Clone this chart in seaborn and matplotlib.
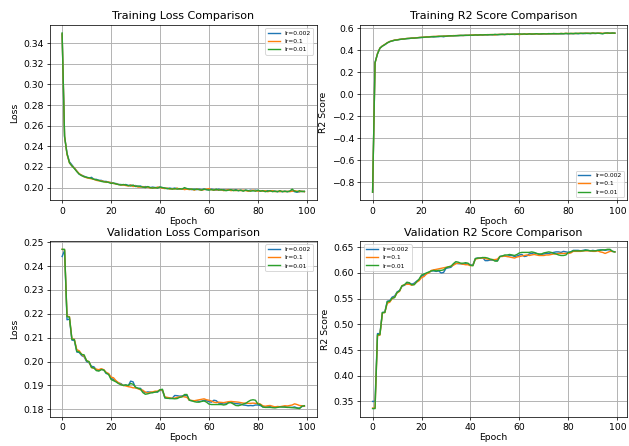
import numpy as np
import pandas as pd
import matplotlib
matplotlib.use('Agg')
import matplotlib.pyplot as plt
import seaborn as sns

# --- Data (epochs 0..99) ---
epochs = list(range(100))
lr_labels = ['lr=0.002', 'lr=0.1', 'lr=0.01']

train_loss_002 = [
    0.349, 0.249, 0.233, 0.225, 0.222, 0.219, 0.216, 0.213, 0.212, 0.211,
    0.210, 0.209, 0.210, 0.208, 0.208, 0.207, 0.207, 0.206, 0.206, 0.205,
    0.205, 0.204, 0.204, 0.203, 0.203, 0.2025, 0.203, 0.202, 0.2025, 0.2015,
    0.202, 0.201, 0.2015, 0.2005, 0.201, 0.2005, 0.200, 0.2005, 0.200, 0.200,
    0.2005, 0.200, 0.1995, 0.199, 0.1995, 0.199, 0.1995, 0.199, 0.1985, 0.199,
    0.1985, 0.199, 0.1985, 0.198, 0.1985, 0.198, 0.1985, 0.198, 0.1985, 0.198,
    0.198, 0.1985, 0.198, 0.1975, 0.1985, 0.1975, 0.198, 0.1975, 0.198, 0.1975,
    0.1975, 0.198, 0.197, 0.1975, 0.197, 0.1975, 0.197, 0.1975, 0.197, 0.1975,
    0.197, 0.1965, 0.197, 0.1965, 0.197, 0.1965, 0.197, 0.1965, 0.196, 0.1965,
    0.196, 0.1965, 0.196, 0.1965, 0.197, 0.196, 0.1955, 0.196, 0.1965, 0.196,
]
train_loss_1 = [
    0.349, 0.250, 0.232, 0.224, 0.221, 0.219, 0.216, 0.2135, 0.212, 0.2105,
    0.2095, 0.209, 0.2085, 0.208, 0.207, 0.2065, 0.2065, 0.206, 0.205, 0.2055,
    0.2045, 0.204, 0.2035, 0.203, 0.2025, 0.2025, 0.202, 0.2015, 0.2025, 0.201,
    0.2015, 0.2005, 0.2005, 0.201, 0.200, 0.2005, 0.1995, 0.200, 0.1995, 0.2005,
    0.200, 0.1995, 0.199, 0.1995, 0.1985, 0.199, 0.1985, 0.1995, 0.1985, 0.199,
    0.198, 0.1985, 0.198, 0.1985, 0.1975, 0.1985, 0.198, 0.1975, 0.198, 0.1985,
    0.199, 0.198, 0.1975, 0.198, 0.1975, 0.198, 0.197, 0.1975, 0.198, 0.197,
    0.1975, 0.197, 0.1975, 0.197, 0.1975, 0.197, 0.1965, 0.197, 0.1975, 0.197,
    0.1965, 0.197, 0.1965, 0.197, 0.196, 0.1965, 0.197, 0.196, 0.1965, 0.196,
    0.1965, 0.196, 0.1965, 0.196, 0.1965, 0.197, 0.1965, 0.196, 0.1965, 0.196,
]
train_loss_01 = [
    0.350, 0.250, 0.233, 0.224, 0.221, 0.2185, 0.2155, 0.213, 0.2115, 0.2105,
    0.210, 0.2095, 0.209, 0.208, 0.2075, 0.207, 0.206, 0.2055, 0.2055, 0.205,
    0.204, 0.2045, 0.2035, 0.203, 0.2025, 0.203, 0.2025, 0.202, 0.2015, 0.2025,
    0.201, 0.2015, 0.201, 0.2005, 0.200, 0.201, 0.200, 0.1995, 0.200, 0.1995,
    0.2005, 0.200, 0.1995, 0.199, 0.199, 0.1985, 0.199, 0.1985, 0.199, 0.1985,
    0.200, 0.199, 0.1985, 0.1985, 0.198, 0.1985, 0.198, 0.1975, 0.1985, 0.198,
    0.1975, 0.198, 0.1975, 0.1985, 0.1975, 0.198, 0.1975, 0.197, 0.1975, 0.198,
    0.197, 0.1975, 0.197, 0.1975, 0.1965, 0.1975, 0.197, 0.1965, 0.197, 0.1965,
    0.1975, 0.1965, 0.197, 0.196, 0.1965, 0.197, 0.196, 0.1965, 0.196, 0.197,
    0.196, 0.1965, 0.196, 0.1965, 0.1985, 0.1965, 0.196, 0.197, 0.196, 0.1965,
]

train_r2_002 = [
    -0.89, 0.290, 0.370, 0.420, 0.440, 0.452, 0.468, 0.480, 0.486, 0.492,
    0.496, 0.500, 0.502, 0.505, 0.507, 0.509, 0.511, 0.513, 0.515, 0.516,
    0.518, 0.520, 0.521, 0.523, 0.524, 0.522, 0.526, 0.525, 0.528, 0.524,
    0.530, 0.531, 0.533, 0.534, 0.533, 0.536, 0.535, 0.537, 0.536, 0.538,
    0.537, 0.539, 0.540, 0.538, 0.541, 0.540, 0.542, 0.541, 0.543, 0.542,
    0.544, 0.543, 0.545, 0.546, 0.544, 0.547, 0.546, 0.548, 0.545, 0.547,
    0.548, 0.546, 0.549, 0.548, 0.550, 0.547, 0.549, 0.551, 0.550, 0.548,
    0.550, 0.551, 0.549, 0.552, 0.550, 0.551, 0.553, 0.550, 0.552, 0.553,
    0.551, 0.553, 0.552, 0.554, 0.552, 0.555, 0.553, 0.554, 0.556, 0.553,
    0.555, 0.554, 0.556, 0.555, 0.553, 0.557, 0.558, 0.556, 0.559, 0.557,
]
train_r2_1 = [
    -0.89, 0.285, 0.372, 0.422, 0.441, 0.455, 0.470, 0.481, 0.488, 0.494,
    0.497, 0.501, 0.503, 0.506, 0.509, 0.510, 0.512, 0.514, 0.515, 0.518,
    0.519, 0.521, 0.523, 0.524, 0.526, 0.527, 0.528, 0.530, 0.527, 0.531,
    0.531, 0.533, 0.532, 0.535, 0.534, 0.536, 0.537, 0.535, 0.538, 0.537,
    0.539, 0.541, 0.540, 0.542, 0.540, 0.543, 0.541, 0.544, 0.543, 0.545,
    0.540, 0.545, 0.546, 0.544, 0.547, 0.545, 0.548, 0.546, 0.547, 0.549,
    0.543, 0.549, 0.547, 0.550, 0.549, 0.551, 0.548, 0.551, 0.549, 0.552,
    0.550, 0.552, 0.551, 0.553, 0.551, 0.553, 0.552, 0.554, 0.553, 0.555,
    0.554, 0.553, 0.555, 0.553, 0.556, 0.554, 0.556, 0.555, 0.557, 0.554,
    0.557, 0.555, 0.556, 0.558, 0.556, 0.557, 0.555, 0.558, 0.556, 0.557,
]
train_r2_01 = [
    -0.89, 0.288, 0.368, 0.421, 0.439, 0.453, 0.469, 0.480, 0.487, 0.493,
    0.495, 0.499, 0.503, 0.504, 0.508, 0.509, 0.512, 0.512, 0.514, 0.517,
    0.518, 0.519, 0.522, 0.522, 0.525, 0.526, 0.525, 0.528, 0.529, 0.530,
    0.529, 0.532, 0.533, 0.532, 0.535, 0.534, 0.537, 0.536, 0.538, 0.537,
    0.539, 0.538, 0.541, 0.540, 0.542, 0.541, 0.543, 0.542, 0.544, 0.543,
    0.546, 0.544, 0.545, 0.547, 0.545, 0.548, 0.546, 0.547, 0.549, 0.547,
    0.550, 0.548, 0.550, 0.547, 0.551, 0.549, 0.550, 0.552, 0.549, 0.551,
    0.552, 0.550, 0.553, 0.551, 0.554, 0.552, 0.551, 0.554, 0.552, 0.555,
    0.553, 0.555, 0.553, 0.556, 0.554, 0.556, 0.555, 0.557, 0.554, 0.556,
    0.558, 0.556, 0.557, 0.555, 0.552, 0.557, 0.559, 0.556, 0.558, 0.557,
]

val_loss_002 = [
    0.2440, 0.2465, 0.2175, 0.2178, 0.2090, 0.2088, 0.2040, 0.2038, 0.2025, 0.2020,
    0.2000, 0.1995, 0.1980, 0.1978, 0.1965, 0.1963, 0.1968, 0.1965, 0.1950, 0.1948,
    0.1930, 0.1925, 0.1918, 0.1910, 0.1908, 0.1900, 0.1902, 0.1898, 0.1918, 0.1915,
    0.1890, 0.1888, 0.1888, 0.1875, 0.1870, 0.1873, 0.1872, 0.1870, 0.1873, 0.1872,
    0.1880, 0.1878, 0.1848, 0.1847, 0.1845, 0.1846, 0.1858, 0.1857, 0.1855, 0.1856,
    0.1857, 0.1858, 0.1838, 0.1836, 0.1835, 0.1836, 0.1833, 0.1834, 0.1838, 0.1836,
    0.1832, 0.1830, 0.1838, 0.1836, 0.1826, 0.1825, 0.1822, 0.1823, 0.1830, 0.1829,
    0.1826, 0.1824, 0.1823, 0.1822, 0.1818, 0.1817, 0.1815, 0.1816, 0.1815, 0.1818,
    0.1818, 0.1816, 0.1810, 0.1809, 0.1810, 0.1811, 0.1808, 0.1809, 0.1810, 0.1811,
    0.1810, 0.1811, 0.1809, 0.1808, 0.1808, 0.1810, 0.1806, 0.1805, 0.1812, 0.1813,
]
val_loss_1 = [
    0.2470, 0.2468, 0.2190, 0.2188, 0.2095, 0.2093, 0.2050, 0.2045, 0.2030, 0.2022,
    0.2005, 0.1998, 0.1975, 0.1972, 0.1968, 0.1966, 0.1970, 0.1966, 0.1955, 0.1950,
    0.1935, 0.1932, 0.1920, 0.1912, 0.1905, 0.1900, 0.1898, 0.1895, 0.1893, 0.1890,
    0.1890, 0.1886, 0.1882, 0.1880, 0.1872, 0.1868, 0.1872, 0.1873, 0.1876, 0.1876,
    0.1882, 0.1880, 0.1852, 0.1850, 0.1848, 0.1846, 0.1847, 0.1850, 0.1852, 0.1854,
    0.1852, 0.1850, 0.1838, 0.1837, 0.1836, 0.1838, 0.1840, 0.1842, 0.1844, 0.1840,
    0.1838, 0.1835, 0.1830, 0.1828, 0.1830, 0.1829, 0.1828, 0.1830, 0.1832, 0.1833,
    0.1832, 0.1831, 0.1830, 0.1828, 0.1826, 0.1826, 0.1825, 0.1825, 0.1826, 0.1825,
    0.1825, 0.1822, 0.1815, 0.1813, 0.1815, 0.1816, 0.1813, 0.1810, 0.1812, 0.1811,
    0.1813, 0.1815, 0.1814, 0.1816, 0.1818, 0.1823, 0.1820, 0.1816, 0.1815, 0.1813,
]
val_loss_01 = [
    0.2470, 0.2470, 0.2188, 0.2186, 0.2093, 0.2092, 0.2043, 0.2040, 0.2030, 0.2028,
    0.2003, 0.2000, 0.1975, 0.1973, 0.1962, 0.1960, 0.1966, 0.1965, 0.1952, 0.1946,
    0.1925, 0.1920, 0.1915, 0.1908, 0.1903, 0.1900, 0.1902, 0.1900, 0.1908, 0.1905,
    0.1893, 0.1888, 0.1885, 0.1870, 0.1863, 0.1865, 0.1868, 0.1870, 0.1872, 0.1874,
    0.1882, 0.1884, 0.1848, 0.1846, 0.1846, 0.1845, 0.1844, 0.1845, 0.1850, 0.1852,
    0.1862, 0.1862, 0.1838, 0.1836, 0.1832, 0.1830, 0.1830, 0.1833, 0.1835, 0.1830,
    0.1822, 0.1820, 0.1820, 0.1820, 0.1820, 0.1820, 0.1818, 0.1820, 0.1827, 0.1828,
    0.1822, 0.1816, 0.1815, 0.1818, 0.1822, 0.1825, 0.1832, 0.1838, 0.1840, 0.1838,
    0.1822, 0.1820, 0.1810, 0.1808, 0.1808, 0.1808, 0.1807, 0.1806, 0.1808, 0.1810,
    0.1810, 0.1809, 0.1808, 0.1808, 0.1807, 0.1806, 0.1805, 0.1803, 0.1813, 0.1815,
]

val_r2_002 = [
    0.350, 0.350, 0.482, 0.482, 0.523, 0.524, 0.545, 0.546, 0.553, 0.555,
    0.563, 0.566, 0.574, 0.576, 0.580, 0.580, 0.578, 0.580, 0.584, 0.587,
    0.594, 0.596, 0.599, 0.601, 0.604, 0.604, 0.603, 0.604, 0.600, 0.601,
    0.609, 0.610, 0.611, 0.616, 0.619, 0.618, 0.618, 0.617, 0.618, 0.617,
    0.615, 0.616, 0.628, 0.629, 0.629, 0.630, 0.624, 0.624, 0.625, 0.625,
    0.625, 0.624, 0.632, 0.633, 0.633, 0.632, 0.634, 0.634, 0.632, 0.633,
    0.635, 0.636, 0.632, 0.633, 0.637, 0.638, 0.639, 0.638, 0.636, 0.636,
    0.637, 0.638, 0.638, 0.639, 0.640, 0.641, 0.641, 0.640, 0.642, 0.641,
    0.640, 0.641, 0.644, 0.644, 0.644, 0.643, 0.644, 0.645, 0.644, 0.643,
    0.644, 0.643, 0.644, 0.645, 0.645, 0.644, 0.645, 0.645, 0.642, 0.641,
]
val_r2_1 = [
    0.337, 0.337, 0.478, 0.479, 0.522, 0.523, 0.541, 0.543, 0.550, 0.553,
    0.561, 0.564, 0.575, 0.577, 0.578, 0.578, 0.576, 0.578, 0.582, 0.585,
    0.591, 0.593, 0.598, 0.600, 0.605, 0.606, 0.607, 0.608, 0.609, 0.610,
    0.611, 0.612, 0.613, 0.615, 0.618, 0.619, 0.618, 0.617, 0.616, 0.616,
    0.614, 0.615, 0.627, 0.628, 0.629, 0.629, 0.628, 0.627, 0.626, 0.626,
    0.626, 0.627, 0.632, 0.632, 0.633, 0.632, 0.631, 0.630, 0.629, 0.631,
    0.632, 0.633, 0.634, 0.635, 0.634, 0.635, 0.636, 0.635, 0.634, 0.634,
    0.634, 0.635, 0.635, 0.636, 0.637, 0.637, 0.638, 0.638, 0.638, 0.638,
    0.638, 0.639, 0.642, 0.642, 0.642, 0.642, 0.643, 0.643, 0.643, 0.643,
    0.642, 0.642, 0.643, 0.641, 0.640, 0.638, 0.640, 0.642, 0.642, 0.641,
]
val_r2_01 = [
    0.336, 0.336, 0.480, 0.480, 0.523, 0.523, 0.544, 0.545, 0.551, 0.552,
    0.562, 0.565, 0.575, 0.577, 0.582, 0.581, 0.577, 0.577, 0.583, 0.588,
    0.596, 0.598, 0.600, 0.602, 0.604, 0.605, 0.604, 0.605, 0.605, 0.606,
    0.610, 0.612, 0.613, 0.618, 0.622, 0.621, 0.619, 0.619, 0.620, 0.619,
    0.615, 0.614, 0.628, 0.629, 0.629, 0.630, 0.630, 0.629, 0.627, 0.626,
    0.623, 0.623, 0.632, 0.633, 0.635, 0.635, 0.636, 0.635, 0.634, 0.636,
    0.639, 0.640, 0.640, 0.640, 0.640, 0.641, 0.640, 0.638, 0.637, 0.637,
    0.639, 0.640, 0.641, 0.640, 0.638, 0.637, 0.635, 0.634, 0.634, 0.635,
    0.640, 0.641, 0.643, 0.643, 0.643, 0.643, 0.643, 0.644, 0.644, 0.643,
    0.643, 0.643, 0.644, 0.644, 0.645, 0.645, 0.646, 0.646, 0.642, 0.641,
]

# --- Plot ---
panels = [
    ('Training Loss Comparison', 'Loss', [train_loss_002, train_loss_1, train_loss_01]),
    ('Training R2 Score Comparison', 'R2 Score', [train_r2_002, train_r2_1, train_r2_01]),
    ('Validation Loss Comparison', 'Loss', [val_loss_002, val_loss_1, val_loss_01]),
    ('Validation R2 Score Comparison', 'R2 Score', [val_r2_002, val_r2_1, val_r2_01]),
]

dpi = 67
fig, axes = plt.subplots(2, 2, figsize=(629 / dpi, 446 / dpi), dpi=dpi)
for ax, (title, ylabel, series) in zip(axes.flat, panels):
    for label, values in zip(lr_labels, series):
        sns.lineplot(x=epochs, y=values, label=label, ax=ax)
    ax.set_title(title)
    ax.set_xlabel('Epoch', labelpad=1.5)
    ax.set_ylabel(ylabel)
    ax.legend(fontsize=6.5)
    ax.grid(True, linewidth=1.0)

# place the axes by hand to follow the reference's tight margins
plt.subplots_adjust(left=0.0795, right=0.9968, top=0.944, bottom=0.066,
                    wspace=0.165, hspace=0.235)
plt.savefig('out.png', dpi=dpi)
plt.close()
